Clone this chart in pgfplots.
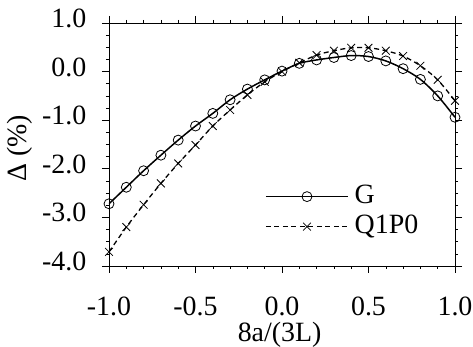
\documentclass[border=0pt]{standalone}
\usepackage{pgfplots}
\pgfplotsset{compat=1.18}
\usepackage{fontspec}
\setmainfont{Liberation Serif}
\newcommand{\bigf}{\fontsize{28}{30}\selectfont}
\begin{document}
\begin{tikzpicture}
\begin{axis}[
  scale only axis,
  width=346bp, height=243bp,
  xmin=-1, xmax=1, ymin=-4, ymax=1,
  xtick={-1,-0.5,0,0.5,1},
  ytick={-4,-3,-2,-1,0,1},
  minor x tick num=4,
  minor y tick num=3,
  tick align=outside,
  major tick length=7bp,
  minor tick length=3bp,
  tick style={black, line width=0.6pt},
  axis line style={line width=0.8pt},
  /pgf/number format/assume math mode=true,
  /pgf/number format/fixed,
  /pgf/number format/fixed zerofill,
  /pgf/number format/precision=1,
  tick label style={font=\bigf, inner sep=0pt},
  xticklabel style={anchor=base, yshift=-42.5bp},
  yticklabel style={anchor=base east, xshift=-15.5bp, yshift=-4.5bp},
  xlabel={8a/(3L)},
  ylabel={Δ (\%)},
  label style={font=\bigf, inner sep=0pt},
  xlabel style={at={(axis description cs:0.493,0)}, anchor=base, yshift=-75.5bp},
  ylabel style={at={(axis description cs:-0.2197,0.485)}, anchor=south, rotate=0},
  legend style={draw=none, fill=none, font=\bigf, inner sep=0pt,
    at={(0.451,0.348)}, anchor=north west, row sep=0bp, column sep=4bp,
    nodes={inner sep=2bp, text height=20bp, text depth=6bp}},
  legend cell align=left,
  legend image code/.code={
    \draw[#1] (0bp,0bp) -- (41bp,0bp) -- (82bp,0bp);
    \draw[#1] plot coordinates {(41bp,0bp)};
  },
]
\addplot[black, line width=1.5pt, smooth, mark=o, mark size=5bp, mark options={solid, line width=0.8pt}]
coordinates {
(-1.0,-2.72) (-0.9,-2.38) (-0.8,-2.04) (-0.7,-1.72) (-0.6,-1.41) (-0.5,-1.12)
(-0.4,-0.86) (-0.3,-0.58) (-0.2,-0.36) (-0.1,-0.17) (0.0,0.01) (0.1,0.17)
(0.2,0.24) (0.3,0.29) (0.4,0.33) (0.5,0.31) (0.6,0.22) (0.7,0.06)
(0.8,-0.16) (0.9,-0.50) (1.0,-0.94)};
\addlegendentry{G}
\addplot[black, line width=1.3pt, smooth, dash pattern=on 5bp off 3.5bp, mark=x, mark size=5.5bp, mark options={solid, line width=0.8pt}]
coordinates {
(-1.0,-3.71) (-0.9,-3.20) (-0.8,-2.74) (-0.7,-2.30) (-0.6,-1.89) (-0.5,-1.51)
(-0.4,-1.12) (-0.3,-0.79) (-0.2,-0.48) (-0.1,-0.21) (0.0,0.0) (0.1,0.18)
(0.2,0.34) (0.3,0.43) (0.4,0.49) (0.5,0.49) (0.6,0.43) (0.7,0.32)
(0.8,0.12) (0.9,-0.17) (1.0,-0.60)};
\addlegendentry{Q1P0}
\end{axis}
\pgfresetboundingbox
\path ([shift={(-109bp,-81bp)}]current axis.south west) rectangle ([shift={(18bp,23bp)}]current axis.north east);
\end{tikzpicture}
\end{document}
